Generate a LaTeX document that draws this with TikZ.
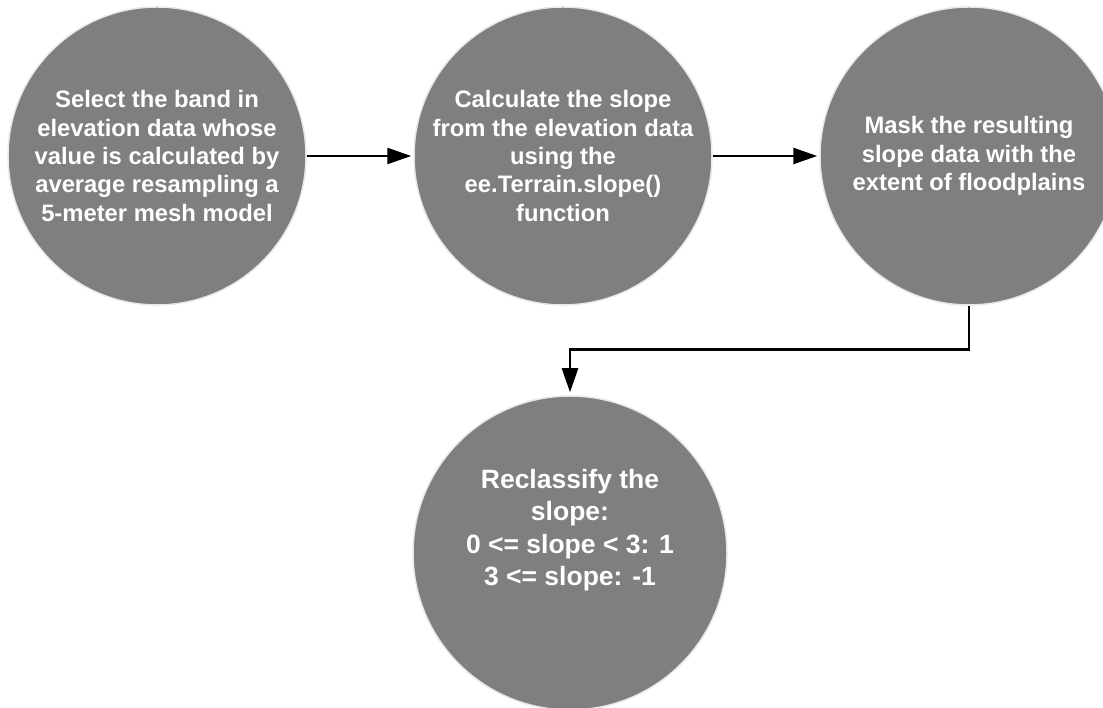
\documentclass[tikz,border=0pt]{standalone}
\usepackage{fontspec}
\setmainfont{Liberation Sans}
\usetikzlibrary{arrows.meta}
\definecolor{stepgray}{RGB}{127,127,127}
\definecolor{rimgray}{RGB}{232,232,232}
\tikzset{
  stepcircle/.style={circle, fill=stepgray, draw=rimgray, line width=1.5pt,
    inner sep=0pt, text=white, align=center,
    font=\bfseries\fontsize{23.8}{28.4}\selectfont},
  steptext/.style={text=white, align=center, inner sep=0pt,
    font=\bfseries\fontsize{26.5}{32.5}\selectfont},
  flowarrow/.style={draw=black, line width=2.5pt,
    -{Triangle[length=24pt,width=16pt]}}
}
\begin{document}
\begin{tikzpicture}[x=1pt,y=1pt]
\useasboundingbox (0,0) rectangle (1103,708);
\clip (0,0) rectangle (1103,708);
\node[stepcircle, minimum size=298pt] (c1) at (157,552)
  {Select the band in\\elevation data whose\\value is calculated by\\average resampling a\\5-meter mesh model};
\node[stepcircle, minimum size=298pt] (c2) at (563,552)
  {Calculate the slope\\from the elevation data\\using the\\ee.Terrain.slope()\\function};
\node[stepcircle, minimum size=298pt] (c3) at (969,552)
  {Mask the resulting\\slope data with the\\extent of floodplains};
\node[stepcircle, minimum size=314pt] (c4) at (570,155) {};
\node[steptext] (t4) at (570,178)
  {Reclassify the\\slope:\\0 <= slope < 3: 1\\3 <= slope: -1};
\draw[flowarrow, shorten >=2pt] (c1) -- (c2);
\draw[flowarrow, shorten >=2pt] (c2) -- (c3);
\draw[flowarrow, shorten >=3pt] (c3.south) -- ++(0,-44) -| (c4.north);
\end{tikzpicture}
\end{document}
